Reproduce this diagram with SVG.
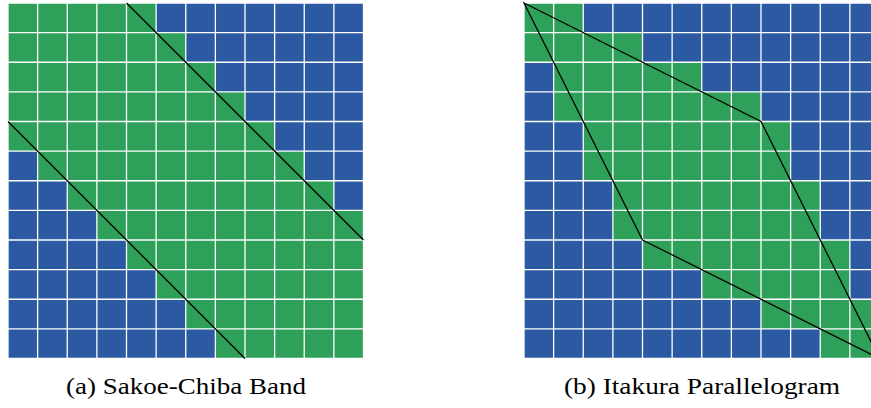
<svg xmlns="http://www.w3.org/2000/svg" width="871" height="408" viewBox="0 0 871 408">
<style>
.bl{fill:#2b5aa2}
.gr{fill:#2ea05a}
.grid line{stroke:#ffffff;stroke-width:1.3;vector-effect:non-scaling-stroke}
.path{fill:none;stroke:#000000;stroke-width:1.3;vector-effect:non-scaling-stroke;stroke-linejoin:miter}
text.cap{font-family:Liberation Serif,serif;font-size:23px;fill:#000000;text-anchor:middle}
</style>
<defs>
<g id="gridlines" class="grid">
<line x1="0" y1="0" x2="0" y2="12"/><line x1="1" y1="0" x2="1" y2="12"/><line x1="2" y1="0" x2="2" y2="12"/><line x1="3" y1="0" x2="3" y2="12"/><line x1="4" y1="0" x2="4" y2="12"/><line x1="5" y1="0" x2="5" y2="12"/><line x1="6" y1="0" x2="6" y2="12"/><line x1="7" y1="0" x2="7" y2="12"/><line x1="8" y1="0" x2="8" y2="12"/><line x1="9" y1="0" x2="9" y2="12"/><line x1="10" y1="0" x2="10" y2="12"/><line x1="11" y1="0" x2="11" y2="12"/><line x1="12" y1="0" x2="12" y2="12"/>
<line x1="0" y1="0" x2="12" y2="0"/><line x1="0" y1="1" x2="12" y2="1"/><line x1="0" y1="2" x2="12" y2="2"/><line x1="0" y1="3" x2="12" y2="3"/><line x1="0" y1="4" x2="12" y2="4"/><line x1="0" y1="5" x2="12" y2="5"/><line x1="0" y1="6" x2="12" y2="6"/><line x1="0" y1="7" x2="12" y2="7"/><line x1="0" y1="8" x2="12" y2="8"/><line x1="0" y1="9" x2="12" y2="9"/><line x1="0" y1="10" x2="12" y2="10"/><line x1="0" y1="11" x2="12" y2="11"/><line x1="0" y1="12" x2="12" y2="12"/>
</g>
</defs>
<g id="sakoe-chiba" transform="translate(8,3) scale(29.625)">
<rect class="bl" x="0" y="0" width="12" height="12"/>
<polygon class="gr" points="0,0 5,0 5,1 6,1 6,2 7,2 7,3 8,3 8,4 9,4 9,5 10,5 10,6 11,6 11,7 12,7 12,12 7,12 7,11 6,11 6,10 5,10 5,9 4,9 4,8 3,8 3,7 2,7 2,6 1,6 1,5 0,5"/>
<use href="#gridlines"/>
<g id="sakoe-lines">
<line class="path" x1="4" y1="0" x2="12" y2="8"/>
<line class="path" x1="0" y1="4" x2="8" y2="12"/>
</g>
</g>
<g id="itakura" transform="translate(524,3) scale(29.625)">
<rect class="bl" x="0" y="0" width="12" height="12"/>
<polygon class="gr" points="0,0 2,0 2,1 4,1 4,2 6,2 6,3 8,3 8,4 9,4 9,6 10,6 10,8 11,8 11,10 12,10 12,12 10,12 10,11 8,11 8,10 6,10 6,9 4,9 4,8 3,8 3,6 2,6 2,4 1,4 1,2 0,2"/>
<use href="#gridlines"/>
<g id="itakura-lines">
<polygon class="path" points="0,0 8,4 12,12 4,8"/>
</g>
</g>
<text id="caption-a" class="cap" style="font-family:Liberation Serif,serif" x="186" y="394" textLength="240" lengthAdjust="spacingAndGlyphs">(a) Sakoe-Chiba Band</text>
<text id="caption-b" class="cap" style="font-family:Liberation Serif,serif" x="702" y="394" textLength="276" lengthAdjust="spacingAndGlyphs">(b) Itakura Parallelogram</text>
</svg>
